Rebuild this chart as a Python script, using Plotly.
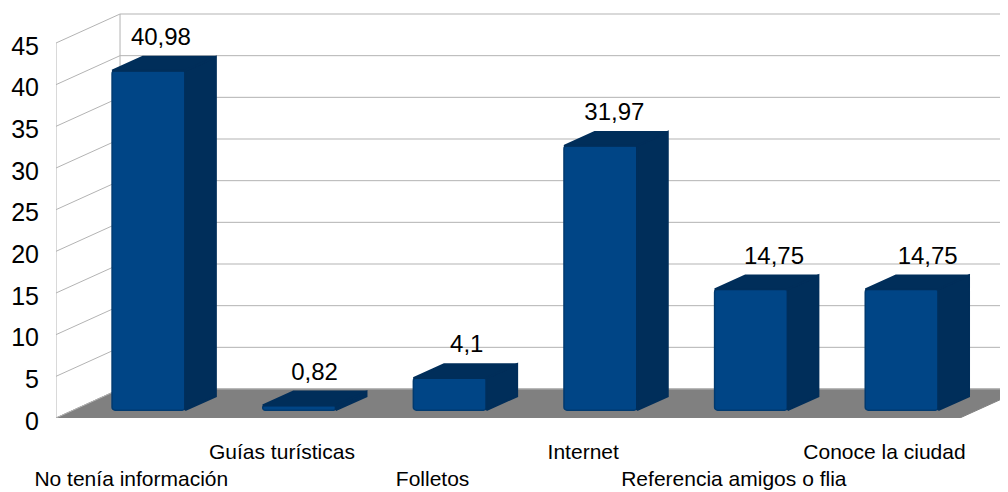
import plotly.graph_objects as go

categories = ["No tenía información", "Guías turísticas", "Folletos", "Internet",
              "Referencia amigos o flia", "Conoce la ciudad"]
values = [40.98, 0.82, 4.1, 31.97, 14.75, 14.75]
value_labels = ["40,98", "0,82", "4,1", "31,97", "14,75", "14,75"]
y_ticks = [0, 5, 10, 15, 20, 25, 30, 35, 40, 45]

# oblique projection: depth 0 = front of the floor, depth 1 = back wall
DEPTH_X = 0.425   # in category units
DEPTH_Y = 3.48    # in value units
BAR_FRONT = 0.27
BAR_BACK = 0.75
BAR_W = 0.485
BEVEL = 0.25      # the rounded top edge eats a little of the drawn height
X_MIN, X_MAX = -0.5, 5.82
Y_MAX = 48.96
label_nudge = [-0.02, 0.0, 0.01, -0.01, 0.05, 0.07]

FRONT = "#004586"
DARK = "#002e5a"
GRID = "#b3b3b3"
FLOOR = "#808080"
FONT = "Liberation Sans"


def proj(cat, val, depth):
    return cat + depth * DEPTH_X, val + depth * DEPTH_Y


def poly(points):
    xs, ys = zip(*[proj(*p) for p in points])
    return list(xs) + [xs[0]], list(ys) + [ys[0]]


fig = go.Figure()

# floor
fx, fy = poly([(X_MIN, 0, 0), (X_MIN + 6, 0, 0), (X_MIN + 6, 0, 1), (X_MIN, 0, 1)])
fig.add_trace(go.Scatter(x=fx, y=fy, mode="lines", fill="toself", fillcolor=FLOOR,
                         line=dict(color=FLOOR, width=1), hoverinfo="skip"))

# walls and gridlines
gx, gy = [], []
for t in y_ticks:
    x0, y0 = proj(X_MIN, t, 0)
    x1, y1 = proj(X_MIN, t, 1)
    gx += [x0, x1, X_MAX + 1, None]
    gy += [y0, y1, y1, None]
for d in (0, 1):
    x0, y0 = proj(X_MIN, y_ticks[0], d)
    x1, y1 = proj(X_MIN, y_ticks[-1], d)
    gx += [x0, x1, None]
    gy += [y0, y1, None]
fig.add_trace(go.Scatter(x=gx, y=gy, mode="lines", line=dict(color=GRID, width=1),
                         hoverinfo="skip"))

# bar fronts
idx = list(range(len(values)))
fx0, fy0 = zip(*[proj(i, 0, BAR_FRONT) for i in idx])
fig.add_trace(go.Bar(x=list(fx0), y=[v - BEVEL for v in values], base=list(fy0), width=BAR_W,
                     marker=dict(color=FRONT, cornerradius=3,
                                 line=dict(color="#003a70", width=1.5)),
                     xaxis="x2", yaxis="y2", hoverinfo="skip"))

# bar sides and tops
for i, v in zip(idx, values):
    r = i + BAR_W / 2
    l = i - BAR_W / 2
    h = v - BEVEL
    sx, sy = poly([(r, 0, BAR_FRONT), (r, h, BAR_FRONT), (r, h, BAR_BACK), (r, 0, BAR_BACK)])
    tx, ty = poly([(l, h, BAR_FRONT), (r, h, BAR_FRONT), (r, h, BAR_BACK), (l, h, BAR_BACK)])
    for px, py in ((sx, sy), (tx, ty)):
        fig.add_trace(go.Scatter(x=px, y=py, mode="lines", fill="toself", fillcolor=DARK,
                                 line=dict(color=DARK, width=2), xaxis="x2", yaxis="y2",
                                 hoverinfo="skip"))

# value labels
lx, ly = [], []
for i, v, n in zip(idx, values, label_nudge):
    x, y = proj(i, v, (BAR_FRONT + BAR_BACK) / 2)
    lx.append(x + n)
    ly.append(v + BAR_BACK * DEPTH_Y + 1.9)
fig.add_trace(go.Scatter(x=lx, y=ly, mode="text", text=value_labels, textposition="middle center",
                         textfont=dict(family=FONT, size=24, color="#000000"),
                         xaxis="x2", yaxis="y2", hoverinfo="skip", cliponaxis=False))

common_x = dict(range=[X_MIN, X_MAX], showgrid=False, zeroline=False, showline=False,
                ticks="", tickmode="array", tickangle=0,
                tickfont=dict(family=FONT, size=21, color="#000000"))
fig.update_layout(
    width=1000, height=484, autosize=False, showlegend=False, barmode="overlay",
    paper_bgcolor="white", plot_bgcolor="white",
    margin=dict(l=48, r=0, t=2, b=74, pad=0),
    font=dict(family=FONT),
    xaxis=dict(common_x, tickvals=idx[0::2], ticktext=categories[0::2], ticklabelstandoff=46),
    xaxis2=dict(common_x, tickvals=idx[1::2], ticktext=categories[1::2], ticklabelstandoff=19,
                overlaying="x", side="bottom", anchor="y2"),
    yaxis=dict(range=[0, Y_MAX], tickmode="array", tickvals=y_ticks, showgrid=False, zeroline=False,
               showline=False, ticks="", ticklabelstandoff=16, ticklabelshift=3,
               tickfont=dict(family=FONT, size=25, color="#000000")),
    yaxis2=dict(range=[0, Y_MAX], overlaying="y", visible=False),
)

fig.write_html("out.html")
